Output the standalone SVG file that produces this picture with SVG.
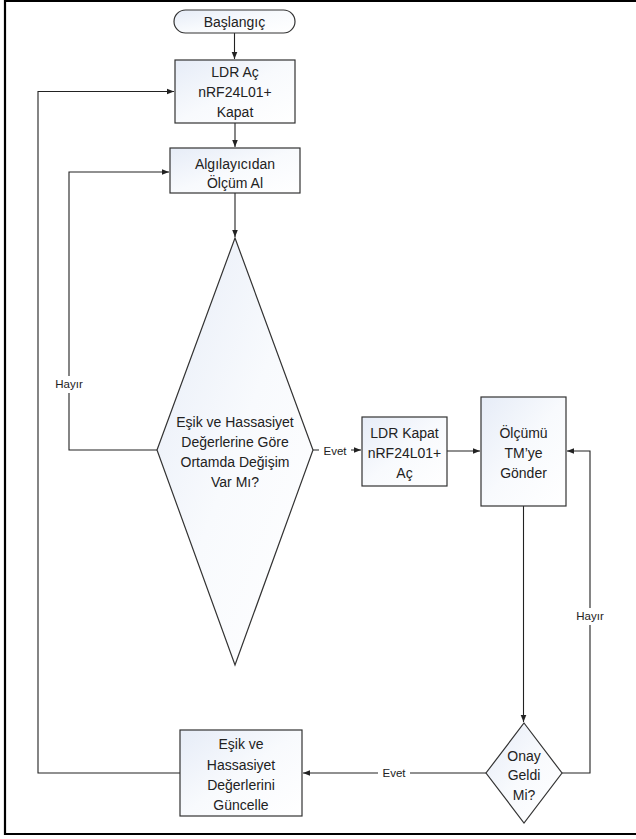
<svg xmlns="http://www.w3.org/2000/svg" width="636" height="839" viewBox="0 0 636 839">
<defs>
<linearGradient id="fill" x1="0" y1="0" x2="1" y2="1">
<stop offset="0" stop-color="#e6ecf7"/>
<stop offset="0.5" stop-color="#f8fafd"/>
<stop offset="1" stop-color="#ffffff"/>
</linearGradient>
<marker id="arr" viewBox="0 0 8 8" refX="8" refY="4" markerWidth="7" markerHeight="7" markerUnits="userSpaceOnUse" orient="auto">
<path d="M0,0.8 L8,4 L0,7.2 z" fill="#222"/>
</marker>
</defs>
<style>
.shape{fill:url(#fill);stroke:#333;stroke-width:1.2}
.t{font-family:"Liberation Sans",Arial,sans-serif;font-size:14px;fill:#222;text-anchor:middle}
.lbl{font-family:"Liberation Sans",Arial,sans-serif;font-size:11.5px;fill:#222;text-anchor:middle}
.c{fill:none;stroke:#222;stroke-width:1.1}
</style>
<rect width="636" height="839" fill="#fff"/>
<path d="M640 1 H5 V834 H640" fill="none" stroke="#000" stroke-width="2.2"/>
<g id="connectors">
<path class="c" d="M234.5 33 V59" marker-end="url(#arr)"/>
<path class="c" d="M235 123 V147" marker-end="url(#arr)"/>
<path class="c" d="M235 193 V237" marker-end="url(#arr)"/>
<path class="c" d="M157 450 H69 V172 H169" marker-end="url(#arr)"/>
<path class="c" d="M313 450 H361" marker-end="url(#arr)"/>
<path class="c" d="M447 451 H480" marker-end="url(#arr)"/>
<path class="c" d="M523.5 506 V722" marker-end="url(#arr)"/>
<path class="c" d="M562 773 H590 V451 H567" marker-end="url(#arr)"/>
<path class="c" d="M486 773 H303" marker-end="url(#arr)"/>
<path class="c" d="M180 773 H38 V91.5 H174" marker-end="url(#arr)"/>
<rect x="51" y="376" width="36" height="17" fill="#fff"/>
<text class="lbl" x="69" y="388">Hayır</text>
<rect x="319" y="443" width="32" height="15" fill="#fff"/>
<text class="lbl" x="335" y="455">Evet</text>
<rect x="572" y="608" width="36" height="17" fill="#fff"/>
<text class="lbl" x="590" y="620">Hayır</text>
<rect x="378" y="765" width="32" height="15" fill="#fff"/>
<text class="lbl" x="394" y="777">Evet</text>
</g>
<g id="start">
<rect class="shape" x="174" y="10" width="121" height="23" rx="11.5"/>
<text class="t" x="234.5" y="27">Başlangıç</text>
</g>
<g id="ldr-ac">
<rect class="shape" x="175" y="60" width="120" height="63"/>
<text class="t" x="235" y="77">LDR Aç</text>
<text class="t" x="235" y="97">nRF24L01+</text>
<text class="t" x="235" y="117">Kapat</text>
</g>
<g id="olcum-al">
<rect class="shape" x="170" y="148" width="130" height="45"/>
<text class="t" x="235" y="169">Algılayıcıdan</text>
<text class="t" x="235" y="188">Ölçüm Al</text>
</g>
<g id="degisim">
<path class="shape" d="M235 238 L313 450 L235 665 L157 450 z"/>
<text class="t" x="235" y="427">Eşik ve Hassasiyet</text>
<text class="t" x="235" y="447">Değerlerine Göre</text>
<text class="t" x="235" y="467">Ortamda Değişim</text>
<text class="t" x="235" y="487">Var Mı?</text>
</g>
<g id="ldr-kapat">
<rect class="shape" x="362" y="417" width="85" height="69"/>
<text class="t" x="404.5" y="438">LDR Kapat</text>
<text class="t" x="404.5" y="458">nRF24L01+</text>
<text class="t" x="404.5" y="478">Aç</text>
</g>
<g id="gonder">
<rect class="shape" x="481" y="397" width="85" height="109"/>
<text class="t" x="523.5" y="438">Ölçümü</text>
<text class="t" x="523.5" y="458">TM’ye</text>
<text class="t" x="523.5" y="478">Gönder</text>
</g>
<g id="onay">
<path class="shape" d="M524 723 L562 773 L524 823 L486 773 z"/>
<text class="t" x="524" y="761">Onay</text>
<text class="t" x="524" y="780">Geldi</text>
<text class="t" x="524" y="800">Mi?</text>
</g>
<g id="guncelle">
<rect class="shape" x="180" y="730" width="122" height="86"/>
<text class="t" x="241" y="749">Eşik ve</text>
<text class="t" x="241" y="770">Hassasiyet</text>
<text class="t" x="241" y="790">Değerlerini</text>
<text class="t" x="241" y="810">Güncelle</text>
</g>
</svg>
